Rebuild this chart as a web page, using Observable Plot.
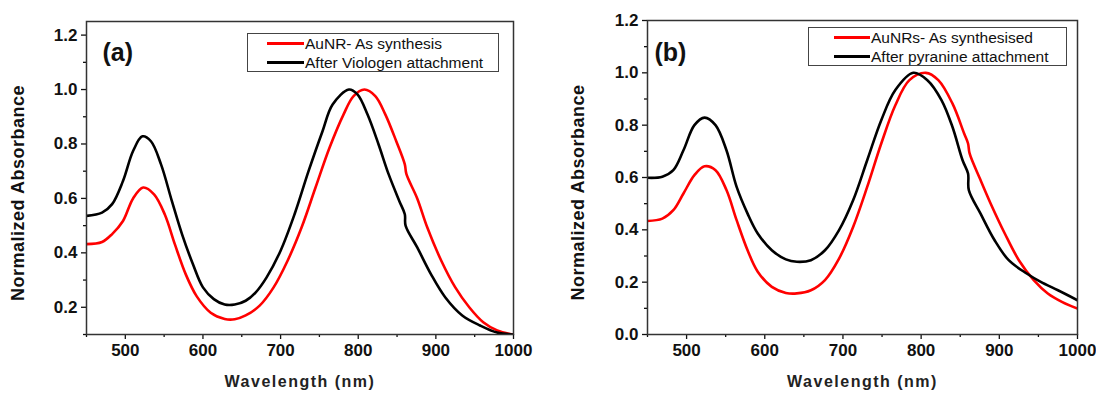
<!DOCTYPE html>
<html><head><meta charset="utf-8">
<script src="https://cdn.jsdelivr.net/npm/d3@7"></script>
<script src="https://cdn.jsdelivr.net/npm/@observablehq/plot@0.6"></script>
<style>
body{margin:0;background:#fff;}
#wrap{position:relative;width:1096px;height:394px;display:flex;}
.panel{position:relative;width:548px;height:394px;}
.legend{position:absolute;box-sizing:border-box;height:39px;border:1px solid #444;background:#fff;font-family:"Liberation Sans",Arial,sans-serif;font-size:15.5px;color:#111;white-space:nowrap;}
.legend .row{display:flex;align-items:center;height:19px;margin-top:0px;}
.legend .sw{height:3px;margin-right:1px;}
</style></head>
<body>
<div id="wrap"><div class="panel" id="pa"></div><div class="panel" id="pb"></div></div>
<script>
// ---- data ----
const xMajor = [500, 600, 700, 800, 900, 1000];
const xMinor = [450, 550, 650, 750, 850, 950];
const yMajorA = [0.2, 0.4, 0.6, 0.8, 1.0, 1.2];
const yMinorA = [0.1, 0.3, 0.5, 0.7, 0.9, 1.1];
const yMajorB = [0.0, 0.2, 0.4, 0.6, 0.8, 1.0, 1.2];
const yMinorB = [0.1, 0.3, 0.5, 0.7, 0.9, 1.1];

// panel (a)
const aRedWl  = [450,470,483,497,510,523,537,551,564,578,592,610,628,641,655,673,691,709,727,745,763,781,794,808,822,835,849,860,862,876,889,907,925,943,961,979,1000];
const aRedAbs = [0.432,0.44,0.469,0.517,0.60,0.64,0.615,0.54,0.43,0.32,0.24,0.18,0.157,0.156,0.17,0.206,0.273,0.371,0.493,0.64,0.786,0.908,0.976,1.0,0.976,0.908,0.81,0.725,0.69,0.60,0.493,0.371,0.273,0.2,0.145,0.115,0.099];
const aBlkWl  = [450,470,483,497,510,522,533,546,560,573,587,600,614,628,641,655,668,682,700,718,736,754,767,788,799,812,826,839,853,860,861,876,894,912,934,957,979,1000];
const aBlkAbs = [0.536,0.548,0.579,0.664,0.774,0.828,0.81,0.725,0.59,0.469,0.359,0.273,0.23,0.21,0.21,0.224,0.255,0.31,0.408,0.542,0.70,0.847,0.945,1.0,0.982,0.908,0.80,0.69,0.59,0.542,0.50,0.42,0.32,0.237,0.17,0.133,0.107,0.1];

// panel (b)
const bRedWl  = [450,469,483,496,510,523,537,551,564,578,591,609,627,641,659,677,695,713,731,749,767,785,806,822,840,855,860,862,876,889,907,925,944,962,980,1000];
const bRedAbs = [0.434,0.443,0.475,0.539,0.609,0.643,0.628,0.552,0.437,0.322,0.24,0.182,0.159,0.157,0.169,0.208,0.29,0.411,0.564,0.73,0.876,0.972,1.0,0.972,0.883,0.768,0.73,0.692,0.59,0.50,0.386,0.284,0.208,0.157,0.125,0.099];
const bBlkWl  = [450,469,483,496,510,523,537,551,564,578,591,609,627,641,659,677,695,713,731,749,767,790,808,826,840,853,860,861,876,894,912,935,953,975,1000];
const bBlkAbs = [0.599,0.603,0.628,0.704,0.80,0.829,0.80,0.704,0.564,0.462,0.386,0.322,0.287,0.278,0.284,0.322,0.399,0.513,0.666,0.819,0.934,1.0,0.972,0.896,0.794,0.666,0.615,0.552,0.462,0.36,0.284,0.233,0.201,0.169,0.131];

const xTitle = "Wavelength (nm)";
const yTitle = "Normalized Absorbance";
const redColor = "#ff0000", blackColor = "#000000";

function toRows(wl, ab){ return wl.map((w,i)=>({w, v: ab[i]})); }

function panel(o){
  return Plot.plot({
    width: 548, height: 394,
    marginLeft: o.ml, marginRight: o.mr, marginTop: o.mt, marginBottom: 60,
    style: {fontFamily: "'Liberation Sans', Arial, sans-serif", fontWeight: "bold", background: "transparent", color: "#111", overflow: "visible"},
    x: {domain: [450, 1000]},
    y: {domain: o.yDomain},
    marks: [
      Plot.axisX({ticks: xMinor, tickSize: 3, text: null, label: null, strokeWidth: 1.3}),
      Plot.axisX({ticks: xMajor, tickSize: 5, tickPadding: 4, fontSize: 17, label: null, tickFormat: d => String(d), strokeWidth: 1.3}),
      Plot.axisY({ticks: o.yMinor, tickSize: 3, text: null, label: null, strokeWidth: 1.3}),
      Plot.axisY({ticks: o.yMajor, tickSize: 5, tickPadding: 4, fontSize: 17, label: null, tickFormat: d3.format(".1f"), strokeWidth: 1.3}),
      Plot.line(toRows(o.redWl, o.redAbs), {x: "w", y: "v", stroke: redColor, strokeWidth: 2.6, curve: "catmull-rom", clip: true}),
      Plot.line(toRows(o.blkWl, o.blkAbs), {x: "w", y: "v", stroke: blackColor, strokeWidth: 2.6, curve: "catmull-rom", clip: true}),
      Plot.frame({stroke: "#333", strokeWidth: 1.5}),
      Plot.text([xTitle], {frameAnchor: "bottom", dy: 52, fontSize: 16, fill: "#222", text: d => d}),
      Plot.text([yTitle], {frameAnchor: "left", textAnchor: "middle", dx: o.ydx, dy: 15, rotate: -90, fontSize: 18, fill: "#111", text: d => d}),
      Plot.text([o.tag], {frameAnchor: "top-left", dx: o.tagDx, dy: o.tagDy, textAnchor: "start", fontSize: 25, fill: "#111", text: d => d})
    ]
  });
}

const figA = panel({ml: 86, mr: 35, mt: 21, yDomain: [0.1, 1.25], yMajor: yMajorA, yMinor: yMinorA,
  redWl: aRedWl, redAbs: aRedAbs, blkWl: aBlkWl, blkAbs: aBlkAbs, ydx: -68, tag: "(a)", tagDx: 16, tagDy: 22});
const figB = panel({ml: 99, mr: 19, mt: 20, yDomain: [0, 1.2], yMajor: yMajorB, yMinor: yMinorB,
  redWl: bRedWl, redAbs: bRedAbs, blkWl: bBlkWl, blkAbs: bBlkAbs, ydx: -69, tag: "(b)", tagDx: 7, tagDy: 23});

for (const svg of [figA, figB]) {
  svg.querySelectorAll('[aria-label="text"] text').forEach(t => {
    if (t.textContent === xTitle) t.setAttribute("letter-spacing", "1.5");
    if (t.textContent === yTitle) t.setAttribute("letter-spacing", "0.5");
  });
}
document.getElementById("pa").appendChild(figA);
document.getElementById("pb").appendChild(figB);

function legend(parent, left, top, width, swL, swW, items){
  const box = document.createElement("div");
  box.className = "legend";
  box.style.left = left + "px"; box.style.top = top + "px"; box.style.width = width + "px";
  items.forEach(([label, color]) => {
    const row = document.createElement("div"); row.className = "row";
    const sw = document.createElement("span"); sw.className = "sw";
    sw.style.background = color; sw.style.width = swW + "px"; sw.style.marginLeft = swL + "px";
    const tx = document.createElement("span"); tx.textContent = label;
    row.appendChild(sw); row.appendChild(tx); box.appendChild(row);
  });
  parent.appendChild(box);
}
legend(document.getElementById("pa"), 247, 33, 252, 19, 37, [["AuNR- As synthesis", redColor], ["After Viologen attachment", blackColor]]);
legend(document.getElementById("pb"), 260, 27, 259, 25, 36, [["AuNRs- As synthesised", redColor], ["After pyranine attachment", blackColor]]);
</script>
</body></html>
